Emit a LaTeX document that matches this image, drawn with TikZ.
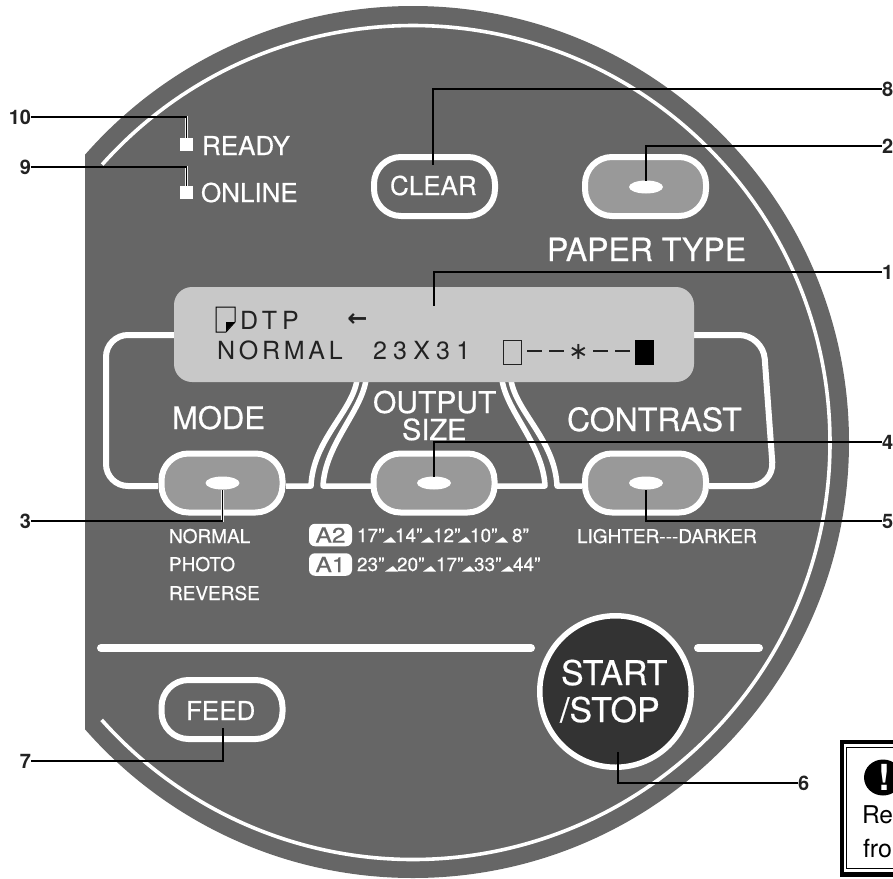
\documentclass[tikz,border=0pt]{standalone}
\usepackage{graphicx}
\usepackage{fontspec}
\setmainfont{TeX Gyre Heros}
\newfontfamily\dejavu{DejaVu Sans}
\usetikzlibrary{shapes.geometric}
\definecolor{panel}{HTML}{666666}
\definecolor{lcdbg}{HTML}{C8C8C8}
\definecolor{btn}{HTML}{999999}
\definecolor{startbg}{HTML}{333333}
\definecolor{ink}{HTML}{222222}
\newcommand{\fsz}[1]{\fontsize{#1}{#1}\selectfont}
\newcommand{\fw}[1]{\fontsize{#1}{#1}\selectfont\addfontfeature{FakeBold=0.5}}
\tikzset{
  wl/.style={draw=white,line width=6pt},
  wlthin/.style={draw=white,line width=5.5pt},
  btnbox/.style={draw=white,line width=6pt,rounded corners=27pt,minimum width=121pt,minimum height=59pt,inner sep=0pt,outer sep=0pt},
  dot/.style={ellipse,fill=white,minimum width=34pt,minimum height=13pt,inner sep=0pt,outer sep=0pt},
  led/.style={fill=white,minimum width=13pt,minimum height=13pt,inner sep=0pt,outer sep=0pt},
  lead/.style={draw=white!88!gray,line width=.5pt,double=black,double distance=1.1pt},
  num/.style={inner sep=0pt,outer sep=0pt,text=ink,font=\fsz{20}\bfseries},
  wt/.style={inner sep=0pt,outer sep=0pt,anchor=base west,text=white},
  lcdt/.style={inner sep=0pt,outer sep=0pt,anchor=base west,text=ink},
  badge/.style={fill=white,rounded corners=6pt,minimum width=43pt,minimum height=22.5pt,inner sep=0pt,text=panel,font=\fw{21}},
  tri/.style={fill=white},
  dsh/.style={draw=ink,line width=1.3pt},
}
\begin{document}
\begin{tikzpicture}[x=1pt,y=-1pt]
\path[use as bounding box] (0,0) rectangle (893,878);
\clip (0,0) rectangle (893,878);
% panel
\begin{scope}
\clip (85,0) rectangle (893,878);
\fill[panel] (413,442) circle[radius=436];
\end{scope}
\draw[white,line width=3.6pt] (413,442.5) ++(221.8:417) arc[start angle=221.8,end angle=498.3,radius=417];
% buttons
\node[btnbox] (clear) at (434.5,186.5) {};
\node[btnbox,fill=btn] (paper) at (645.5,186.5) {};
\node[btnbox,fill=btn] (mode) at (222,483) {};
\node[btnbox,fill=btn] (output) at (434,483) {};
\node[btnbox,fill=btn] (contrast) at (645.5,483) {};
\node[btnbox] (feed) at (222,709.5) {};
\node[dot] (e2) at (646,187) {};
\node[dot] (e3) at (222.5,483) {};
\node[dot] (e4) at (434,483) {};
\node[dot] (e5) at (646,483) {};
% frames
\coordinate (fl) at (180,335);
\coordinate (fr) at (690,335);
\draw[wl,rounded corners=22pt] (fl) -- (106,335) -- (106,486) -- (158,486);
\draw[wl,rounded corners=24pt] (fr) -- (763,335) -- (774,486) -- (709,486);
\draw[wlthin,line join=round] (286,486) -- (311,486) .. controls (313,440) and (352,412) .. (357,380);
\draw[wlthin,line join=round] (371,486) -- (323,486) .. controls (325,445) and (361,412) .. (366,380);
\draw[wlthin,line join=round] (582,486) -- (557,486) .. controls (555,440) and (516,412) .. (511,380);
\draw[wlthin,line join=round] (497,486) -- (545,486) .. controls (543,445) and (507,412) .. (502,380);
% display
\node[fill=lcdbg,rounded corners=18pt,minimum width=520pt,minimum height=95pt,inner sep=0pt,outer sep=0pt] (lcd) at (434,334.5) {};
\draw[black,line width=1pt,fill=lcdbg] (216,307) -- (235,307) -- (235,322) -- (226,332) -- (216,332) -- cycle;
\fill[black] (234.5,322) -- (226,322) -- (226,331.5) -- cycle;
\node[lcdt] at (240,329) {\fsz{25}\addfontfeature{LetterSpace=20}DTP};
\node[lcdt] at (217,359) {\fsz{25}\addfontfeature{LetterSpace=15}NORMAL};
\node[lcdt] at (373,359) {\fsz{25}\addfontfeature{LetterSpace=25}23X31};
\node[lcdt,anchor=center] at (357.5,320) {\fsz{24}\dejavu\bfseries ←};
\draw[ink,line width=1pt] (503.5,340.5) rectangle (521.5,364.5);
\draw[dsh] (527,351) -- (542,351);
\draw[dsh] (549,351) -- (564,351);
\node[lcdt,anchor=center] at (578.5,352) {\fsz{24}\dejavu ∗};
\draw[dsh] (593,351) -- (608,351);
\draw[dsh] (615,351) -- (630,351);
\fill[black] (635,340) rectangle (654,365);
% bars
\draw[white,line width=8pt,line cap=round] (101,648) -- (531,648);
\draw[white,line width=8pt,line cap=round] (698,648) -- (759,648);
% start
\node[circle,draw=white,fill=startbg,line width=5.5pt,minimum size=151.5pt,inner sep=0pt,outer sep=0pt] (start) at (615.5,691.5) {};
\node[wt] at (561,685) {\fw{34}START};
\node[wt] at (560,722) {\fw{34}/STOP};
% leds
\node[led] (led10) at (186.5,144.5) {};
\node[led] (led9) at (186.5,192.5) {};
% labels
\node[wt] at (202,155) {\fw{26}READY};
\node[wt] at (201,202) {\fw{26}ONLINE};
\node[wt] at (390,195) {\fw{26}CLEAR};
\node[wt] at (547,261) {\fw{32}PAPER TYPE};
\node[wt] at (172,429) {\fw{31}MODE};
\node[wt] at (373,413) {\fw{30}OUTPUT};
\node[wt] at (402,440) {\fw{29}SIZE};
\node[wt] at (567,431) {\fw{32}CONTRAST};
\node[wt] at (169,543) {\fw{19}NORMAL};
\node[wt] at (169,571) {\fw{19}PHOTO};
\node[wt] at (169,600) {\fw{19}REVERSE};
\node[wt] at (577,543) {\fw{19}LIGHTER-{}-{}-DARKER};
\node[wt] at (186,720) {\fw{26}FEED};
% size rows
\node[badge] (a2) at (330.5,535) {\scalebox{1.17}[1]{A2}};
\node[badge] (a1) at (330.5,564.5) {\scalebox{1.17}[1]{A1}};
\node[wt] at (357,542) {\fw{19}17"};
\node[wt] at (395,542) {\fw{19}14"};
\node[wt] at (433,542) {\fw{19}12"};
\node[wt] at (470,542) {\fw{19}10"};
\node[wt] at (512,542) {\fw{19}8"};
\node[wt] at (357,571) {\fw{19}23"};
\node[wt] at (397,571) {\fw{19}20"};
\node[wt] at (436,571) {\fw{19}17"};
\node[wt] at (474,571) {\fw{19}33"};
\node[wt] at (513,571) {\fw{19}44"};
\foreach \xx in {383,421,458,495}{\fill[tri] (\xx,542.5) -- (\xx+8,537) -- (\xx+13,542.5) -- cycle;}
\foreach \xx in {385,423,462,501}{\fill[tri] (\xx,571.5) -- (\xx+8,566) -- (\xx+13,571.5) -- cycle;}
% number labels
\node[num,anchor=east] (n10) at (31,117) {10};
\node[num,anchor=east] (n9) at (31,167) {9};
\node[num,anchor=east] (n3) at (31,521) {3};
\node[num,anchor=east] (n7) at (31,761) {7};
\node[num,anchor=west] (n8) at (882,89) {8};
\node[num,anchor=west] (n2) at (882,146) {2};
\node[num,anchor=west] (n1) at (882,272) {1};
\node[num,anchor=west] (n4) at (882,442) {4};
\node[num,anchor=west] (n5) at (882,521) {5};
\node[num,anchor=west] (n6) at (798,783) {6};
% leaders
\coordinate (t8) at (433,165);
\coordinate (t1) at (434,306);
\coordinate (t4) at (434,477);
\coordinate (t7) at (223,728);
\coordinate (t6) at (618,752);
\draw[lead] (n10.east) -| (led10.north);
\draw[lead] (n9.east) -| (led9.north);
\draw[lead] (n8.west) -| (t8);
\draw[lead] (n2.west) -| (e2.north);
\draw[lead] (n1.west) -| (t1);
\draw[lead] (n4.west) -| (t4);
\draw[lead] (n5.west) -| (e5.south);
\draw[lead] (n3.east) -| (e3.south);
\draw[lead] (n7.east) -| (t7);
\draw[lead] (n6.west) -| (t6);
% caution box
\draw[black,line width=4.5pt] (842.2,742.2) rectangle (920,874.5);
\draw[black,line width=1pt] (846.5,747.5) rectangle (920,868);
\fill[black] (883,777.5) ellipse[x radius=19,y radius=18];
\node[inner sep=0pt,outer sep=0pt,text=white,font=\fsz{36}\bfseries] (bang) at (884,777) {!};
\node[lcdt,text=black] at (862,823) {\fsz{24.5}Re};
\node[lcdt,text=black] at (863,857) {\fsz{25}fro};
\end{tikzpicture}
\end{document}
